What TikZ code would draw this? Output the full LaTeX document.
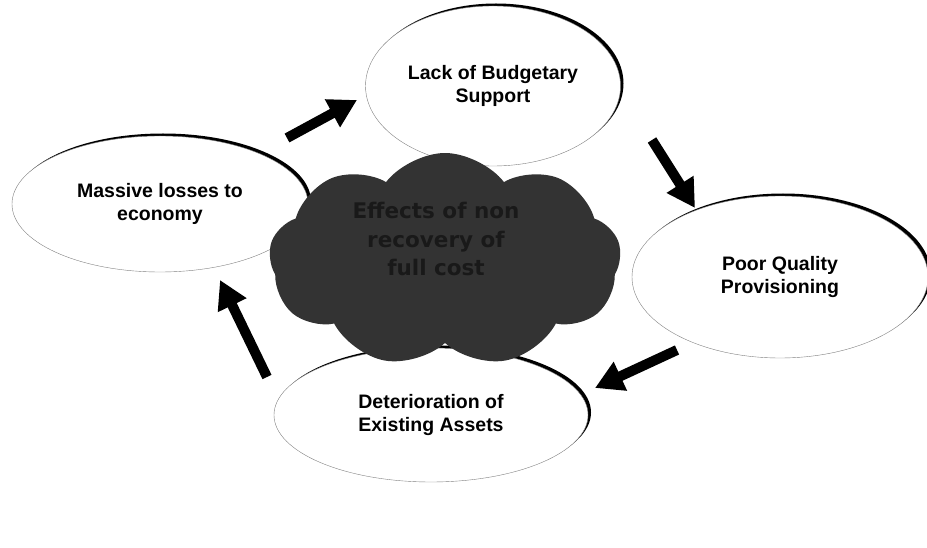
\documentclass[tikz,border=0pt]{standalone}
\usepackage{fontspec}
\setmainfont{Liberation Sans}
\newfontfamily\cloudfont{DejaVu Sans}
\usetikzlibrary{positioning}
\usetikzlibrary{shapes,shadows,arrows.meta}
\definecolor{cloudgray}{HTML}{333333}

\begin{document}
\begin{tikzpicture}[x=1pt,y=-1pt,
  stage/.style={ellipse,draw=gray,thin,fill=white,inner sep=0pt,align=center,
    font=\fontsize{19.5}{23}\selectfont\bfseries,
    drop shadow={shadow xshift=3pt,shadow yshift=2.5pt,fill=black,opacity=1}},
  flow/.style={line width=10pt,-{Triangle[length=28pt,width=30pt]}}]
\useasboundingbox (0,0) rectangle (927,548);
\node[stage,minimum width=296pt,minimum height=136pt] (losses) at (160,204) {Massive losses to\\economy};
\node[stage,minimum width=255pt,minimum height=160pt] (lack) at (493,86) {Lack of Budgetary\\Support};
\node[stage,minimum width=296pt,minimum height=162pt] (poor) at (780,277) {Poor Quality\\Provisioning};
\node[stage,minimum width=314pt,minimum height=134pt] (deter) at (431,415) {Deterioration of\\Existing Assets};
% the cloud in the middle
\node[cloud,cloud puffs=9,cloud puff arc=105,aspect=1.5,fill=cloudgray,inner sep=0pt,minimum width=352pt,minimum height=214pt] (effects) at (445,260) {};
\node[align=center,text=black!90,font=\cloudfont\fontsize{21.5}{28.5}\selectfont\bfseries] (effectstext) at (436,239) {Effects of non\\recovery of\\full cost};
% arrows
\coordinate (a1s) at (287,138); \coordinate (a1e) at (357,100);
\coordinate (a2s) at (652,140); \coordinate (a2e) at (695,208);
\coordinate (a3s) at (677,350); \coordinate (a3e) at (595,388);
\coordinate (a4s) at (267,377); \coordinate (a4e) at (220,280);
\draw[flow] (a1s) -- (a1e);
\draw[flow] (a2s) -- (a2e);
\draw[flow] (a3s) -- (a3e);
\draw[flow] (a4s) -- (a4e);
\end{tikzpicture}
\end{document}
